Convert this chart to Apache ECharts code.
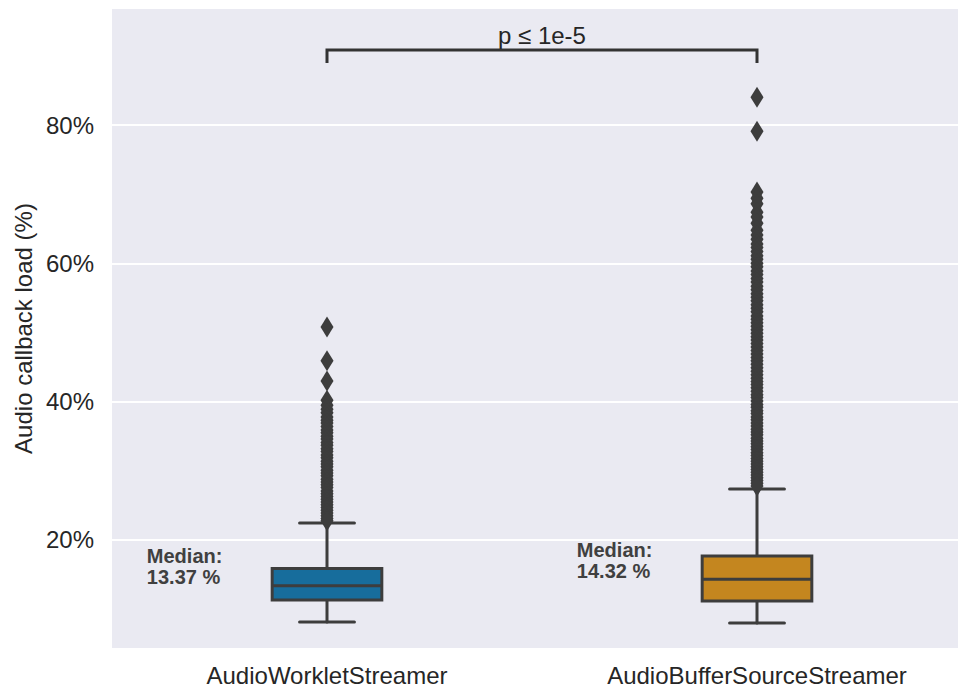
<!DOCTYPE html>
<html><head><meta charset="utf-8">
<script src="https://cdn.jsdelivr.net/npm/echarts@6/dist/echarts.min.js"></script>
<style>html,body{margin:0;padding:0;background:#fff}#c{width:958px;height:689px}</style>
</head><body><div id="c"></div>
<script>
// ---- data ----
const categories = ['AudioWorkletStreamer', 'AudioBufferSourceStreamer'];
const whiskerLow = [8.15, 8.0];
const q1 = [11.33, 11.18];
const median = [13.37, 14.32];
const q3 = [15.88, 17.69];
const whiskerHigh = [22.46, 27.37];
const boxColors = ['#176d9c', '#c4861f'];
const outliersWorklet = [50.8, 45.9, 43.0, 40.2, 39.5, 38.9, 38.4, 37.8, 37.3, 36.9, 36.4, 35.9, 35.5, 35.0, 34.6, 34.1, 33.7, 33.2, 32.8, 32.3, 31.9, 31.4, 31.0, 30.6, 30.1, 29.7, 29.3, 28.8, 28.4, 28.0, 27.6, 27.1, 26.7, 26.3, 25.9, 25.5, 25.1, 24.7, 24.3, 23.9, 23.5, 23.1, 22.8];
const outliersBuffer = [84.0, 79.1, 70.3, 69.4, 68.6, 67.4, 66.7, 65.8, 64.8, 64.1, 63.5, 62.8, 62.3, 61.7, 61.1, 60.6, 60.0, 59.5, 58.9, 58.4, 57.8, 57.3, 56.7, 56.2, 55.6, 55.1, 54.6, 54.0, 53.5, 53.0, 52.4, 51.9, 51.4, 50.9, 50.4, 49.9, 49.4, 48.9, 48.4, 47.9, 47.4, 46.9, 46.4, 45.9, 45.4, 44.9, 44.4, 43.9, 43.4, 42.9, 42.5, 42.0, 41.5, 41.0, 40.6, 40.1, 39.6, 39.2, 38.7, 38.3, 37.8, 37.4, 36.9, 36.5, 36.0, 35.6, 35.2, 34.7, 34.3, 33.9, 33.5, 33.1, 32.6, 32.2, 31.8, 31.4, 31.0, 30.6, 30.2, 29.8, 29.4, 29.0, 28.6, 28.2, 27.8];
const medianLabelY = [16.1, 17.0];
const bracketBottom = 88.96;
const bracketTop = 90.84;
const pLabel = 'p \u2264 1e-5';
const pLabelY = 92.9;
const yMin = 4.24, yMax = 96.92;

// ---- chart ----
const FONT = "'Liberation Sans', Arial, sans-serif";
const EDGE = '#3d3d3d';
const chart = echarts.init(document.getElementById('c'), null, {renderer: 'svg'});

const boxData = categories.map((c, i) => [i, whiskerLow[i], q1[i], median[i], q3[i], whiskerHigh[i]]);
const outlierData = [];
outliersWorklet.forEach(v => outlierData.push([0, v]));
outliersBuffer.forEach(v => outlierData.push([1, v]));

chart.setOption({
  animation: false,
  backgroundColor: '#ffffff',
  grid: {left: 112, right: -14, top: 8, bottom: 40, show: true, backgroundColor: '#eaeaf2', borderWidth: 0, containLabel: false, outerBoundsMode: 'none'},
  xAxis: {
    type: 'category', data: categories, boundaryGap: true,
    axisLine: {show: false}, axisTick: {show: false}, splitLine: {show: false},
    axisLabel: {fontSize: 24, color: '#262626', fontFamily: FONT, margin: 14}
  },
  yAxis: {
    type: 'value', min: yMin, max: yMax, splitNumber: 5,
    name: 'Audio callback load (%)', nameLocation: 'middle', nameGap: 76,
    nameTextStyle: {fontSize: 24, color: '#262626', fontFamily: FONT},
    axisLine: {show: false}, axisTick: {show: false},
    axisLabel: {fontSize: 24, color: '#262626', fontFamily: FONT, margin: 18,
      formatter: v => (Math.abs(v % 20) < 1e-6 ? v + '%' : '')},
    splitLine: {lineStyle: {color: '#ffffff', width: 2}}
  },
  series: [
    {
      type: 'custom', z: 2, silent: true,
      data: boxData,
      encode: {x: 0, y: [1, 2, 3, 4, 5]},
      renderItem: function (params, api) {
        const i = api.value(0);
        const band = api.size([1, 0])[0];
        const hw = band * 0.255 / 2;
        const cw = hw / 2;
        const pLo = api.coord([i, api.value(1)]);
        const pQ1 = api.coord([i, api.value(2)]);
        const pMed = api.coord([i, api.value(3)]);
        const pQ3 = api.coord([i, api.value(4)]);
        const pHi = api.coord([i, api.value(5)]);
        const x = pLo[0];
        const ls = {stroke: EDGE, lineWidth: 3, lineCap: 'round'};
        return {
          type: 'group',
          children: [
            {type: 'line', shape: {x1: x, y1: pQ1[1], x2: x, y2: pLo[1]}, style: ls},
            {type: 'line', shape: {x1: x, y1: pQ3[1], x2: x, y2: pHi[1]}, style: ls},
            {type: 'line', shape: {x1: x - cw, y1: pLo[1], x2: x + cw, y2: pLo[1]}, style: ls},
            {type: 'line', shape: {x1: x - cw, y1: pHi[1], x2: x + cw, y2: pHi[1]}, style: ls},
            {type: 'rect', shape: {x: x - hw, y: pQ3[1], width: hw * 2, height: pQ1[1] - pQ3[1]},
              style: {fill: boxColors[i], stroke: EDGE, lineWidth: 3}},
            {type: 'line', shape: {x1: x - hw, y1: pMed[1], x2: x + hw, y2: pMed[1]}, style: {stroke: EDGE, lineWidth: 3}}
          ]
        };
      }
    },
    {
      type: 'scatter', z: 3, silent: true,
      data: outlierData,
      symbol: 'diamond', symbolSize: [13, 21],
      itemStyle: {color: EDGE, opacity: 1}
    },
    {
      type: 'custom', z: 4, silent: true,
      data: categories.map((c, i) => [i, medianLabelY[i], median[i]]),
      encode: {x: 0, y: 1},
      renderItem: function (params, api) {
        const i = api.value(0);
        const band = api.size([1, 0])[0];
        const p = api.coord([i, api.value(1)]);
        return {
          type: 'text',
          x: p[0] - band * 0.419, y: p[1],
          style: {
            text: 'Median:\n' + api.value(2).toFixed(2) + ' %',
            fill: '#404040', fontSize: 20, fontWeight: 'bold', fontFamily: FONT,
            lineHeight: 21, align: 'left', verticalAlign: 'middle'
          }
        };
      }
    },
    {
      type: 'custom', z: 4, silent: true,
      data: [[0, 1, bracketBottom, bracketTop, pLabelY]],
      encode: {x: [0, 1], y: [2, 3, 4]},
      renderItem: function (params, api) {
        const a0 = api.coord([api.value(0), api.value(2)]);
        const a1 = api.coord([api.value(0), api.value(3)]);
        const b1 = api.coord([api.value(1), api.value(3)]);
        const b0 = api.coord([api.value(1), api.value(2)]);
        const t = api.coord([api.value(0), api.value(4)]);
        const tx = (a1[0] + b1[0]) / 2;
        return {
          type: 'group',
          children: [
            {type: 'polyline', shape: {points: [a0, a1, b1, b0]}, style: {stroke: '#333333', lineWidth: 3, fill: null, lineJoin: 'miter'}},
            {type: 'text', x: tx, y: t[1], style: {text: pLabel, fill: '#262626', fontSize: 24, fontFamily: FONT, align: 'center', verticalAlign: 'middle'}}
          ]
        };
      }
    }
  ]
});
</script>
</body></html>
